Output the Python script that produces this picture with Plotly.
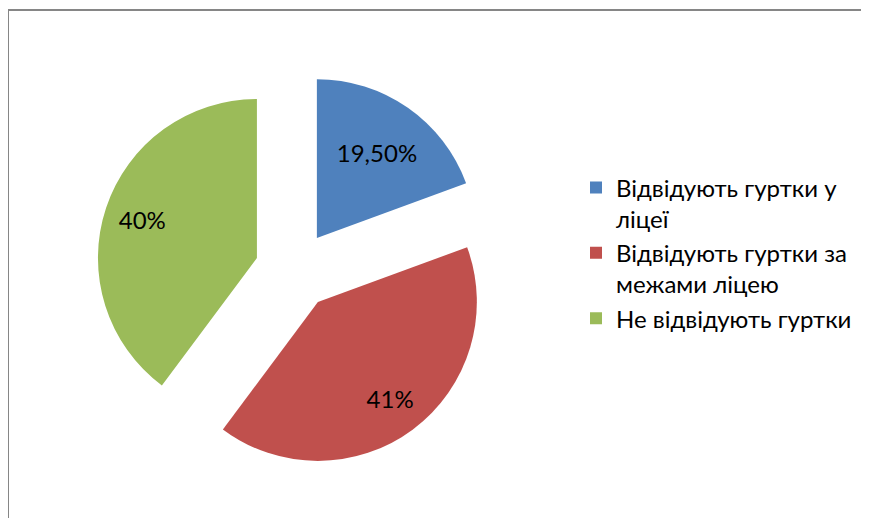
import plotly.graph_objects as go

labels = ["Відвідують гуртки у<br>ліцеї", "Відвідують гуртки за<br>межами ліцею", "Не відвідують гуртки"]
values = [19.5, 41, 40]
text_labels = ["19,50%", "41%", "40%"]
colors = ["#4F81BD", "#C0504D", "#9BBB59"]
pulls = [0.248, 0.248, 0.248]

W, H = 853, 510
FONT = "Lato, Noto Sans, sans-serif"
domain = dict(x=[0.10311, 0.56823], y=[0.09637, 0.87461])

fig = go.Figure()
fig.add_trace(go.Pie(
    labels=labels,
    values=values,
    textinfo="none",
    marker=dict(colors=colors, line=dict(width=0)),
    pull=pulls,
    sort=False,
    direction="clockwise",
    rotation=0,
    domain=domain,
    hoverinfo="label+percent",
))


def label_layer(keep, hole):
    # transparent overlay pie that only carries the data labels
    txt = [t if i in keep else "" for i, t in enumerate(text_labels)]
    return go.Pie(
        labels=labels,
        values=values,
        text=txt,
        textinfo="text",
        textposition="inside",
        insidetextorientation="horizontal",
        textfont=dict(family=FONT, size=24, color="black"),
        marker=dict(colors=["rgba(0,0,0,0)"] * len(values), line=dict(width=0)),
        pull=pulls,
        hole=hole,
        sort=False,
        direction="clockwise",
        rotation=0,
        domain=domain,
        showlegend=False,
        hoverinfo="skip",
    )


fig.add_trace(label_layer({0}, 0.32))
fig.add_trace(label_layer({1, 2}, 0.52))

fig.update_layout(
    width=W, height=H,
    margin=dict(l=0, r=0, t=0, b=0, autoexpand=False),
    paper_bgcolor="white",
    plot_bgcolor="white",
    font=dict(family=FONT, color="black"),
    legend=dict(
        x=568 / W, y=0.520, xanchor="left", yanchor="middle",
        valign="top",
        font=dict(size=24, color="black"),
        bgcolor="rgba(0,0,0,0)",
    ),
    shapes=[dict(
        type="rect", xref="paper", yref="paper",
        x0=0, x1=1.05, y0=-0.05, y1=1 - 2 / H,
        line=dict(color="#868686", width=2), fillcolor="rgba(0,0,0,0)",
    )],
)

fig.write_html("out.html")
